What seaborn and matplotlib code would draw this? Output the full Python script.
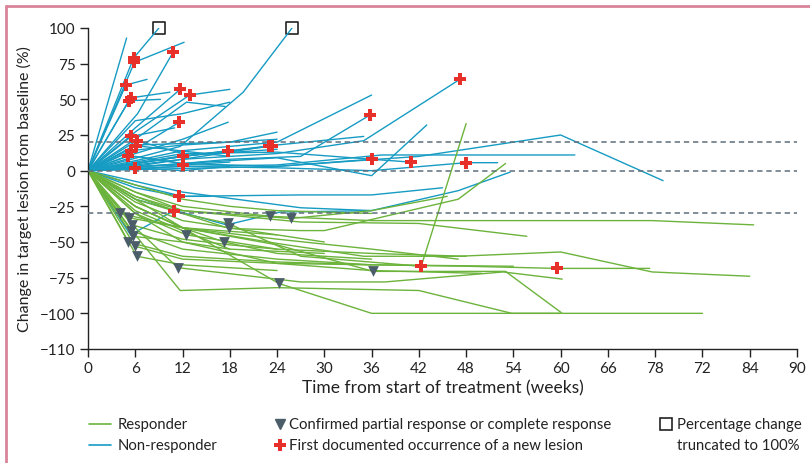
import numpy as np
import pandas as pd
import matplotlib
matplotlib.use("Agg")
import matplotlib.pyplot as plt
from matplotlib.lines import Line2D
import seaborn as sns

# ---------------------------------------------------------------------------
# Per-patient change in target lesion size (%) over time (weeks)
# ---------------------------------------------------------------------------
nonresp_weeks = [
    [0, 5.8, 9.0], [0, 5.9, 12.2], [0, 4.9], [0, 6.3, 10.8], [0, 4.8, 7.5],
    [0, 5.4, 10.4], [0, 5.2, 9.2], [0, 6.0, 11.7], [0, 6.2, 12.9, 18.0],
    [0, 6.0, 12.5, 17.4], [0, 6.0, 11.6], [0, 6.0, 12.0, 17.8],
    [0, 11.7, 19.7, 25.9], [0, 12.0, 24.0, 36.0], [0, 12.0, 18.0, 27.0, 35.8],
    [0, 12.0, 24.0, 35.0, 47.2], [0, 6.0, 18.0, 24.0], [0, 12.0, 24.0, 36.0, 43.0],
    [0, 12.0, 24.0, 37.3, 61.8], [0, 12.0, 24.0, 36.0, 41.0],
    [0, 6.0, 12.0, 24.0, 36.0], [0, 12.0, 24.0, 36.0, 48.0, 52.0],
    [0, 24.0, 42.0, 60.0, 73.0], [0, 12.0, 27.0, 36.0, 47.0, 53.6],
    [0, 6.0, 12.0, 27.0, 36.0, 45.0], [0, 5.4, 10.9], [0, 6.0, 11.6, 15.5],
    [0, 6.0, 17.6, 24.4, 36.0], [0, 6.0, 12.0, 17.8], [0, 6.0, 12.0, 23.0],
    [0, 6.0, 12.0, 23.3], [0, 5.5, 11.0], [0, 6.2, 12.0], [0, 6.1, 18.0],
    [0, 5.4, 12.0, 24.0], [0, 5.1, 12.0], [0, 6.0, 12.0, 18.0],
    [0, 6.0, 12.0, 24.0], [0, 6.0, 12.0, 18.0], [0, 12.0, 24.0, 35.0],
    [0, 6.0, 12.0, 18.0],
]
nonresp_change = [
    [0, 79, 100], [0, 76, 90], [0, 93], [0, 40, 83], [0, 60, 64],
    [0, 51, 55], [0, 49, 50], [0, 30, 57], [0, 28, 53, 57],
    [0, 22, 48, 45], [0, 15, 34], [0, 12, 22, 34],
    [0, 17, 55, 100], [0, 14, 20, 53], [0, 5, 8, 10, 39],
    [0, 8, 12, 21, 64], [0, 18, 20, 27], [0, 5, 9, -3.5, 32],
    [0, 3, 4, 11, 11], [0, 12, 13, 8, 6],
    [0, 10, 5, 3, 8], [0, 3, 2, 0, 5.6, 5.6],
    [0, 3, 10, 25, -7], [0, -15, -26, -28, -14, -1],
    [0, -10, -18, -17, -17, -12], [0, -45, -28], [0, -12, -18, -18],
    [0, -20, -38, -29, -28], [0, 5, 10, 14], [0, 5, 10, 17],
    [0, 3, 8, 17.5], [0, 24, 30], [0, 21, 12], [0, 17.5, 10],
    [0, 14, 18, 22], [0, 10.5, 5], [0, 2, 0, 3],
    [0, 5, 10.5, 15], [0, 3, 4, 6], [0, 10, 18, 24],
    [0, 35, 40, 48],
]

resp_weeks = [
    [0, 4.1, 12.0, 24.0, 30.0], [0, 5.2, 12.0, 24.0, 36.0, 47.0],
    [0, 5.6, 12.0, 18.0, 24.0], [0, 5.5, 12.0, 24.0, 36.0, 54.0],
    [0, 5.7, 12.0, 18.0], [0, 6.0, 11.4, 27.0, 37.7, 52.7, 60.2],
    [0, 5.1, 12.0, 24.0, 36.0], [0, 6.0, 12.0, 24.0, 36.0, 48.0, 59.5, 71.3],
    [0, 6.2, 12.0, 24.0], [0, 6.0, 12.5, 24.0, 36.0, 48.0],
    [0, 6.0, 12.0, 17.8, 27.0, 42.3, 48.0],
    [0, 6.0, 12.0, 17.9, 27.0, 30.0, 47.0, 53.0],
    [0, 6.0, 12.0, 17.3, 24.0, 36.0], [0, 6.0, 11.7, 24.0, 42.0, 53.8, 60.0],
    [0, 6.0, 12.0, 23.1, 36.0, 48.0, 60.0, 71.6, 84.5],
    [0, 6.0, 12.0, 25.8, 36.0, 45.6], [0, 6.0, 12.0, 24.2, 36.0, 60.0],
    [0, 6.0, 12.0, 24.0, 36.2, 53.0, 60.2, 78.0],
    [0, 6.0, 12.0, 24.0, 35.0, 47.0, 60.0, 71.6, 84.0],
    [0, 6.0, 12.0, 27.0, 42.0, 55.7], [0, 6.0, 12.0, 24.0, 36.0, 50.0],
    [0, 6.0, 12.0, 18.0, 24.0, 36.0], [0, 6.0, 12.0, 24.0],
    [0, 6.0, 12.0, 18.0, 30.0],
]
resp_change = [
    [0, -30, -40, -45, -50], [0, -33, -40, -48, -55, -62],
    [0, -38, -48, -52, -55], [0, -42, -55, -62, -66, -67],
    [0, -46, -50, -55], [0, -40, -68, -78, -78, -71, -76],
    [0, -50, -60, -64, -66], [0, -53, -62, -65, -66, -67, -68.5, -68.5],
    [0, -60, -66, -70], [0, -30, -45, -55, -58, -60],
    [0, -20, -30, -37, -60, -67, 33],
    [0, -18, -30, -40.5, -42, -42, -20, 5],
    [0, -25, -40, -50, -58, -62], [0, -45, -84, -82, -84, -100, -100],
    [0, -15, -25, -32, -35, -35, -35, -35, -38],
    [0, -15, -28, -33.5, -28, -18], [0, -20, -40, -79, -100, -100],
    [0, -25, -40, -52, -70.6, -70.6, -100, -100],
    [0, -25, -40, -51, -60, -60, -57, -71, -74],
    [0, -18, -28, -36, -37, -46], [0, -30, -50, -65, -70, -72],
    [0, -10, -20, -25, -28, -30], [0, -22, -35, -45],
    [0, -28, -42, -55, -58],
]

# Events, given as (patient index, visit index) within each group
nonresp_new_lesion = [(0, 1), (1, 1), (3, 2), (4, 1), (5, 1), (6, 1), (7, 2),
                      (8, 2), (10, 2), (14, 4), (15, 4), (19, 4), (20, 4),
                      (21, 4), (25, 2), (26, 2), (28, 3), (29, 3), (30, 3),
                      (31, 1), (32, 1), (33, 1), (34, 1), (35, 1), (36, 1),
                      (37, 2), (38, 2)]
nonresp_truncated = [(0, 2), (12, 3)]
resp_new_lesion = [(7, 6), (10, 5)]
resp_confirmed = [(0, 1), (1, 1), (2, 1), (3, 1), (4, 1), (5, 2), (6, 1),
                  (7, 1), (8, 1), (9, 2), (10, 3), (11, 3), (12, 3), (14, 3),
                  (15, 3), (16, 3), (17, 4)]

threshold_lines = [20, 0, -30]
x_ticks = [0, 6, 12, 18, 24, 30, 36, 42, 48, 54, 60, 66, 72, 78, 84, 90]
x_tick_labels = ["0", "6", "12", "18", "24", "30", "36", "42", "48", "54",
                 "60", "66", "78", "72", "84", "90"]
y_ticks = [100, 75, 50, 25, 0, -25, -50, -75, -100, -125]
y_tick_labels = ["100", "75", "50", "25", "0", "\u221225", "\u221250",
                 "\u221275", "\u2212100", "\u2212110"]

GREEN = "#6cb33c"
BLUE = "#169bc3"
RED = "#e8302a"
SLATE = "#4b5d69"
DASH = "#5e6e7a"
INK = "#222222"


def long_form(weeks, changes, group):
    rows = []
    for pid, (w, c) in enumerate(zip(weeks, changes)):
        for wk, ch in zip(w, c):
            rows.append({"patient": f"{group}{pid}", "week": wk,
                         "change": ch, "group": group})
    return pd.DataFrame(rows)


def event_points(weeks, changes, events):
    return pd.DataFrame({
        "week": [weeks[p][v] for p, v in events],
        "change": [changes[p][v] for p, v in events],
    })


nonresp_df = long_form(nonresp_weeks, nonresp_change, "N")
resp_df = long_form(resp_weeks, resp_change, "R")

lesion_df = pd.concat([
    event_points(nonresp_weeks, nonresp_change, nonresp_new_lesion),
    event_points(resp_weeks, resp_change, resp_new_lesion),
], ignore_index=True)
confirmed_df = event_points(resp_weeks, resp_change, resp_confirmed)
truncated_df = event_points(nonresp_weeks, nonresp_change, nonresp_truncated)

sns.set_style("ticks")
plt.rcParams["font.family"] = ["Lato", "DejaVu Sans"]
plt.rcParams["axes.linewidth"] = 1.0

W, H = 810, 464
fig = plt.figure(figsize=(W / 100, H / 100), dpi=100)


def px(x, y):
    return x / W, 1 - y / H


ax = fig.add_axes([88 / W, 1 - 350 / H, (797 - 88) / W, (350 - 29) / H])

sns.lineplot(data=nonresp_df, x="week", y="change", units="patient",
             estimator=None, sort=False, color=BLUE, linewidth=1.0,
             legend=False, ax=ax, zorder=2)
sns.lineplot(data=resp_df, x="week", y="change", units="patient",
             estimator=None, sort=False, color=GREEN, linewidth=1.0,
             legend=False, ax=ax, zorder=2)

for yv in threshold_lines:
    ax.axhline(yv, color=DASH, linewidth=1.1, dashes=(3.5, 2.5), zorder=3)

sns.scatterplot(data=confirmed_df, x="week", y="change", marker="v",
                color=SLATE, s=60, linewidth=0, ax=ax, zorder=4)
sns.scatterplot(data=lesion_df, x="week", y="change", marker="P",
                color=RED, s=70, linewidth=0, ax=ax, zorder=5)
ax.scatter(truncated_df["week"], truncated_df["change"], marker="s", s=85,
           facecolors="white", edgecolors=INK, linewidths=1.2, zorder=1,
           clip_on=False)

ax.set_xlim(0, 90)
ax.set_ylim(-125, 100)
ax.set_xticks(x_ticks)
ax.set_xticklabels(x_tick_labels)
ax.set_yticks(y_ticks)
ax.set_yticklabels(y_tick_labels)
ax.tick_params(axis="both", direction="out", length=6, width=1.0,
               labelsize=11, pad=3, colors=INK)
ax.set_xlabel("Time from start of treatment (weeks)", fontsize=12.5,
              color=INK, labelpad=3)
ax.set_ylabel("Change in target lesion from baseline (%)", fontsize=11.5,
              color=INK, labelpad=6)
for side in ("top", "right"):
    ax.spines[side].set_visible(False)
for side in ("left", "bottom"):
    ax.spines[side].set_color(INK)

# Legend laid out in three columns below the plot
fs = 10.7
fig.add_artist(Line2D([px(89, 0)[0], px(111, 0)[0]], [px(0, 425)[1]] * 2,
                      color=GREEN, linewidth=1.2))
fig.add_artist(Line2D([px(89, 0)[0], px(111, 0)[0]], [px(0, 446)[1]] * 2,
                      color=BLUE, linewidth=1.2))
fig.text(*px(118, 425), "Responder", fontsize=fs, va="center", color=INK)
fig.text(*px(118, 446), "Non-responder", fontsize=fs, va="center", color=INK)
fig.add_artist(Line2D([px(280, 0)[0]], [px(0, 425)[1]], marker="v",
                      color=SLATE, markersize=7, linestyle="none"))
fig.add_artist(Line2D([px(280, 0)[0]], [px(0, 446)[1]], marker="P",
                      color=RED, markersize=8, markeredgewidth=0,
                      linestyle="none"))
fig.text(*px(289, 425), "Confirmed partial response or complete response",
         fontsize=fs, va="center", color=INK)
fig.text(*px(289, 446), "First documented occurrence of a new lesion",
         fontsize=fs, va="center", color=INK)
fig.add_artist(Line2D([px(666, 0)[0]], [px(0, 425)[1]], marker="s",
                      markerfacecolor="none", markeredgecolor=INK,
                      markeredgewidth=1.2, markersize=9, linestyle="none"))
fig.text(*px(677, 425), "Percentage change", fontsize=fs, va="center",
         color=INK)
fig.text(*px(677, 446), "truncated to 100%", fontsize=fs, va="center",
         color=INK)

# Panel frame (left and top edges)
frame = "#d9849a"
fig.add_artist(Line2D([px(6, 0)[0], px(6, 0)[0]], [0, px(0, 7)[1]],
                      color=frame, linewidth=2))
fig.add_artist(Line2D([px(6, 0)[0], 1.0], [px(0, 7)[1]] * 2,
                      color=frame, linewidth=2))

fig.savefig("out.png", dpi=100)
